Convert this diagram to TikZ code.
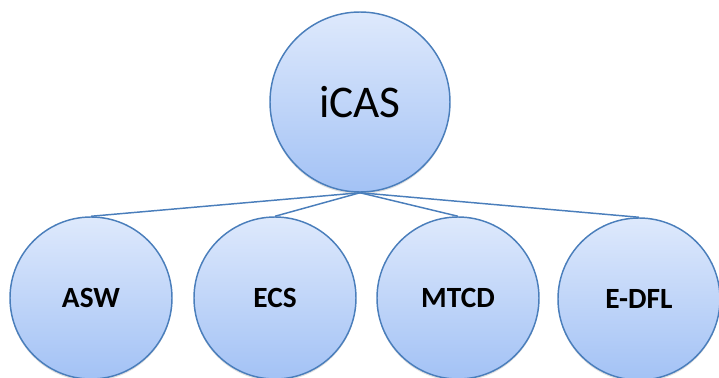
\documentclass[tikz,border=0pt]{standalone}
\usepackage{fontspec}
\setmainfont{Carlito}
\usetikzlibrary{shadows}
\definecolor{edge}{HTML}{4A7EBB}
\definecolor{topfill}{HTML}{DEE9FC}
\definecolor{botfill}{HTML}{A3C2F5}
\begin{document}
\begin{tikzpicture}[x=0.75pt,y=-0.75pt,
  bubble/.style={circle, draw=edge, line width=1.1pt, top color=topfill, bottom color=botfill,
    drop shadow={opacity=0.25, shadow xshift=0pt, shadow yshift=-1.5pt}, inner sep=0pt},
  big/.style={bubble, minimum size=135pt, font=\fontsize{34}{34}\selectfont},
  small/.style={bubble, minimum size=121.5pt, font=\bfseries\fontsize{22}{22}\selectfont},
  link/.style={draw=edge, line width=1.1pt}]
\useasboundingbox (0,0) rectangle (719,378);
\node[big] (icas) at (360,102) {iCAS};
\node[small] (asw) at (91,298) {ASW};
\node[small] (ecs) at (275,298) {ECS};
\node[small] (mtcd) at (458,298) {MTCD};
\node[small] (edfl) at (639,299) {E-DFL};
\begin{scope}[on background layer/.try]
\end{scope}
\draw[link] (icas.south) -- (asw.north);
\draw[link] (icas.south) -- (ecs.north);
\draw[link] (icas.south) -- (mtcd.north);
\draw[link] (icas.south) -- (edfl.north);
\end{tikzpicture}
\end{document}
